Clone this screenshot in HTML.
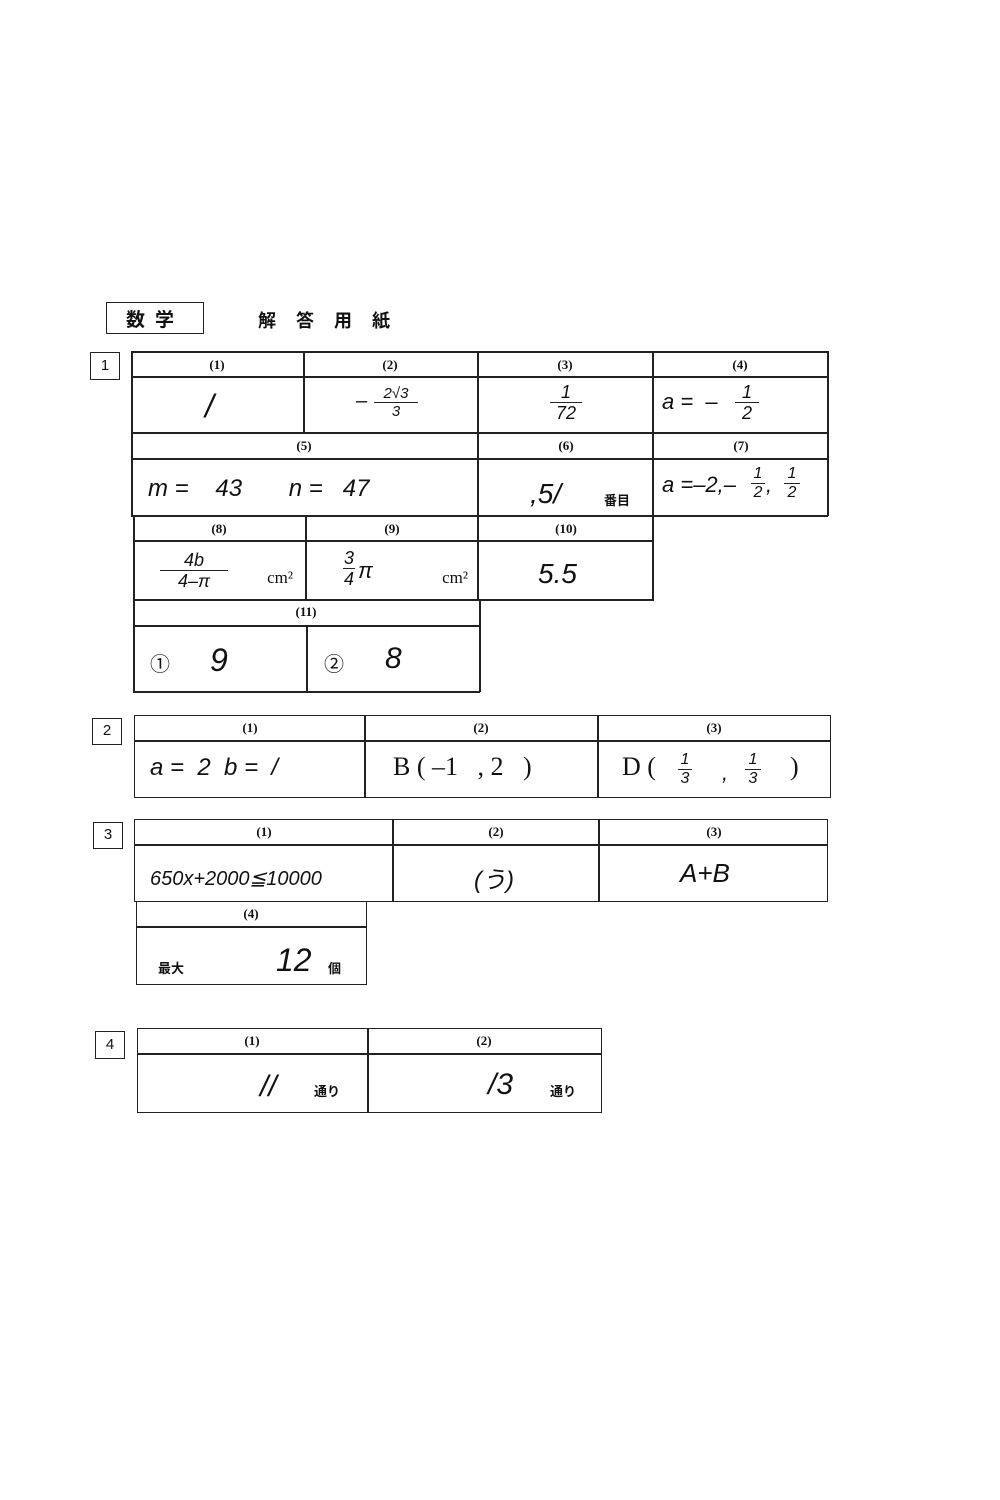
<!DOCTYPE html>
<html><head><meta charset="utf-8"><style>
body{margin:0;background:#fff;}
#p{position:relative;width:1000px;height:1500px;background:#fff;font-family:"Liberation Serif","Noto Sans CJK JP",serif;color:#111;overflow:hidden}
.b{position:absolute;border:1.5px solid #222;box-sizing:border-box}
.h{position:absolute;background:#222;height:1.5px}
.v{position:absolute;background:#222;width:1.5px}
.t{position:absolute;white-space:nowrap;font-size:13px;font-weight:bold;transform:translateX(-50%)}
.w{position:absolute;white-space:nowrap;font-family:"Liberation Sans",sans-serif;font-style:italic;font-size:26px;font-weight:300}
.j{position:absolute;white-space:nowrap;font-family:"Noto Sans CJK JP",sans-serif;font-size:13px;font-weight:bold}
.n{position:absolute;font-family:"Liberation Sans",sans-serif;font-size:15px;text-align:center}
.fr{position:absolute;font-family:"Liberation Sans",sans-serif;font-style:italic;text-align:center;line-height:1}
.fr span{display:block}
.fr .bar{border-top:1.5px solid #222;margin:1px 0}
</style></head><body><div id="p">
<div class="b" style="left:106px;top:302px;width:98px;height:32px"></div>
<div class="j" style="left:126px;top:305px;font-size:19px;letter-spacing:10px">数学</div>
<div class="j" style="left:258px;top:307px;font-size:18px;letter-spacing:20px">解答用紙</div>

<!-- section 1 -->
<div class="b" style="left:90px;top:352px;width:30px;height:28px"></div><div class="n" style="left:90px;top:357px;width:30px">1</div>
<div class="h" style="left:131px;top:351px;width:697px"></div>
<div class="h" style="left:131px;top:376px;width:697px"></div>
<div class="h" style="left:131px;top:432px;width:697px"></div>
<div class="h" style="left:131px;top:458px;width:697px"></div>
<div class="h" style="left:131px;top:515px;width:697px"></div>
<div class="h" style="left:133px;top:540px;width:521px"></div>
<div class="h" style="left:133px;top:599px;width:521px"></div>
<div class="h" style="left:133px;top:625px;width:347px"></div>
<div class="h" style="left:133px;top:691px;width:347px"></div>
<div class="v" style="left:131px;top:351px;height:165px"></div>
<div class="v" style="left:827px;top:351px;height:165px"></div>
<div class="v" style="left:303px;top:351px;height:82px"></div>
<div class="v" style="left:477px;top:351px;height:249px"></div>
<div class="v" style="left:652px;top:351px;height:249px"></div>
<div class="v" style="left:133px;top:515px;height:177px"></div>
<div class="v" style="left:305px;top:515px;height:85px"></div>
<div class="v" style="left:306px;top:625px;height:67px"></div>
<div class="v" style="left:479px;top:599px;height:93px"></div>
<div class="t" style="left:217px;top:357px">(1)</div>
<div class="t" style="left:390px;top:357px">(2)</div>
<div class="t" style="left:565px;top:357px">(3)</div>
<div class="t" style="left:740px;top:357px">(4)</div>
<div class="t" style="left:304px;top:438px">(5)</div>
<div class="t" style="left:566px;top:438px">(6)</div>
<div class="t" style="left:741px;top:438px">(7)</div>
<div class="t" style="left:219px;top:521px">(8)</div>
<div class="t" style="left:392px;top:521px">(9)</div>
<div class="t" style="left:566px;top:521px">(10)</div>
<div class="t" style="left:306px;top:604px">(11)</div>
<div class="w" style="left:205px;top:388px;font-size:32px">/</div>
<div class="w" style="left:356px;top:390px;font-size:20px">–</div>
<div class="fr" style="left:374px;top:386px;font-size:15px;width:44px"><span>2√3</span><span class="bar"></span><span>3</span></div>
<div class="fr" style="left:550px;top:383px;font-size:18px;width:32px"><span>1</span><span class="bar"></span><span>72</span></div>
<div class="w" style="left:662px;top:389px;font-size:22px">a =&nbsp; –</div>
<div class="fr" style="left:735px;top:383px;font-size:18px;width:24px"><span>1</span><span class="bar"></span><span>2</span></div>
<div class="w" style="left:148px;top:475px;font-size:24px">m =&nbsp;&nbsp;&nbsp; 43&nbsp;&nbsp;&nbsp;&nbsp;&nbsp;&nbsp; n =&nbsp;&nbsp; 47</div>
<div class="w" style="left:530px;top:478px;font-size:28px">,5/</div>
<div class="j" style="left:604px;top:490px">番目</div>
<div class="w" style="left:662px;top:472px;font-size:22px">a =–2,–</div>
<div class="fr" style="left:751px;top:466px;font-size:16px;width:14px"><span>1</span><span class="bar"></span><span>2</span></div>
<div class="w" style="left:766px;top:472px;font-size:22px">,</div>
<div class="fr" style="left:784px;top:466px;font-size:16px;width:16px"><span>1</span><span class="bar"></span><span>2</span></div>
<div class="fr" style="left:160px;top:551px;font-size:18px;width:68px"><span>4b</span><span class="bar"></span><span>4–π</span></div>
<div class="t" style="left:280px;top:568px;font-size:17px;font-weight:normal">cm²</div>
<div class="fr" style="left:343px;top:549px;font-size:18px;width:12px"><span>3</span><span class="bar"></span><span>4</span></div>
<div class="w" style="left:358px;top:558px;font-size:22px">π</div>
<div class="t" style="left:455px;top:568px;font-size:17px;font-weight:normal">cm²</div>
<div class="w" style="left:538px;top:558px;font-size:28px">5.5</div>
<div class="t" style="left:160px;top:648px;font-size:20px;font-weight:normal">①</div>
<div class="w" style="left:210px;top:642px;font-size:32px">9</div>
<div class="t" style="left:334px;top:648px;font-size:20px;font-weight:normal">②</div>
<div class="w" style="left:385px;top:642px;font-size:30px">8</div>

<!-- section 2 -->
<div class="b" style="left:92px;top:718px;width:30px;height:27px"></div><div class="n" style="left:92px;top:722px;width:30px">2</div>
<div class="b" style="left:134px;top:715px;width:697px;height:83px"></div>
<div class="h" style="left:134px;top:740px;width:697px"></div>
<div class="v" style="left:364px;top:715px;height:83px"></div>
<div class="v" style="left:597px;top:715px;height:83px"></div>
<div class="t" style="left:250px;top:720px">(1)</div>
<div class="t" style="left:481px;top:720px">(2)</div>
<div class="t" style="left:714px;top:720px">(3)</div>
<div class="w" style="left:150px;top:754px;font-size:24px">a =&nbsp; 2&nbsp; b =&nbsp; /</div>
<div class="w" style="left:393px;top:752px;font-size:26px;font-family:'Liberation Serif',serif;font-style:normal">B ( –1&nbsp;&nbsp; , 2&nbsp;&nbsp; )</div>
<div class="w" style="left:622px;top:752px;font-size:26px;font-family:'Liberation Serif',serif;font-style:normal">D (</div>
<div class="fr" style="left:678px;top:752px;font-size:16px;width:14px"><span>1</span><span class="bar"></span><span>3</span></div>
<div class="w" style="left:722px;top:760px;font-size:22px">,</div>
<div class="fr" style="left:745px;top:752px;font-size:16px;width:16px"><span>1</span><span class="bar"></span><span>3</span></div>
<div class="w" style="left:790px;top:752px;font-size:26px;font-family:'Liberation Serif',serif;font-style:normal">)</div>

<!-- section 3 -->
<div class="b" style="left:93px;top:822px;width:30px;height:27px"></div><div class="n" style="left:93px;top:826px;width:30px">3</div>
<div class="b" style="left:134px;top:819px;width:694px;height:83px"></div>
<div class="h" style="left:134px;top:844px;width:694px"></div>
<div class="v" style="left:392px;top:819px;height:83px"></div>
<div class="v" style="left:598px;top:819px;height:83px"></div>
<div class="t" style="left:264px;top:824px">(1)</div>
<div class="t" style="left:496px;top:824px">(2)</div>
<div class="t" style="left:714px;top:824px">(3)</div>
<div class="w" style="left:150px;top:866px;font-size:20px">650x+2000≦10000</div>
<div class="w" style="left:474px;top:860px;font-size:24px">(う)</div>
<div class="w" style="left:680px;top:858px;font-size:26px">A+B</div>
<div class="b" style="left:136px;top:901px;width:231px;height:84px"></div>
<div class="h" style="left:136px;top:926px;width:231px"></div>
<div class="t" style="left:251px;top:906px">(4)</div>
<div class="j" style="left:158px;top:958px">最大</div>
<div class="w" style="left:276px;top:942px;font-size:32px">12</div>
<div class="j" style="left:328px;top:958px">個</div>

<!-- section 4 -->
<div class="b" style="left:95px;top:1031px;width:30px;height:28px"></div><div class="n" style="left:95px;top:1036px;width:30px">4</div>
<div class="b" style="left:137px;top:1028px;width:465px;height:85px"></div>
<div class="h" style="left:137px;top:1053px;width:465px"></div>
<div class="v" style="left:367px;top:1028px;height:85px"></div>
<div class="t" style="left:252px;top:1033px">(1)</div>
<div class="t" style="left:484px;top:1033px">(2)</div>
<div class="w" style="left:260px;top:1070px;font-size:30px">//</div>
<div class="j" style="left:314px;top:1081px">通り</div>
<div class="w" style="left:488px;top:1068px;font-size:30px">/3</div>
<div class="j" style="left:550px;top:1081px">通り</div>
</div></body></html>
